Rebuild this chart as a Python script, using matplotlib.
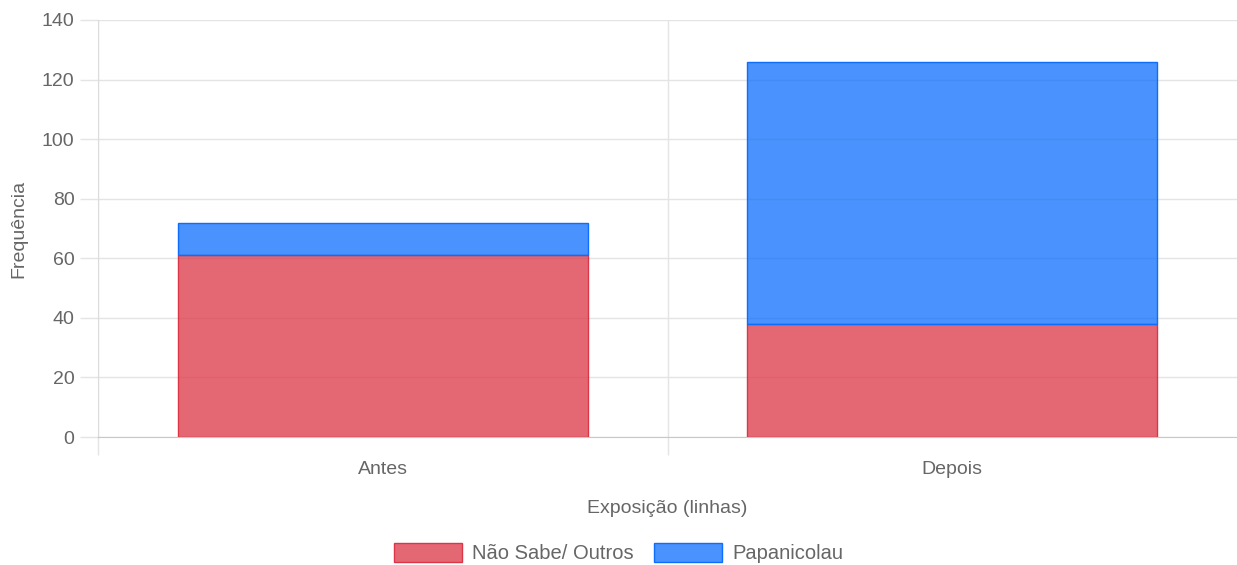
import matplotlib
matplotlib.use("Agg")
import matplotlib.pyplot as plt
import numpy as np

# data
categories = ["Antes", "Depois"]
nao_sabe = [61, 38]
papanicolau = [11, 88]
series_names = ["Não Sabe/ Outros", "Papanicolau"]

plt.rcParams['font.family'] = ['Liberation Sans', 'DejaVu Sans']

W, H = 1237, 565
fig = plt.figure(figsize=(W / 100, H / 100), dpi=100)
# plot area in pixels: left 98, right 1237, top 20, bottom 437
ax = fig.add_axes([98 / W, 1 - 437 / H, (1237 - 98) / W, (437 - 20) / H])

x = np.arange(len(categories))
red_fill = (220 / 255, 53 / 255, 69 / 255, 0.75)
red_edge = (220 / 255, 53 / 255, 69 / 255, 1.0)
blue_fill = (13 / 255, 110 / 255, 253 / 255, 0.75)
blue_edge = (13 / 255, 110 / 255, 253 / 255, 1.0)

ax.bar(x, nao_sabe, width=0.72, color=red_fill, edgecolor=red_edge,
       linewidth=1, label=series_names[0], zorder=3)
ax.bar(x, papanicolau, width=0.72, bottom=nao_sabe, color=blue_fill,
       edgecolor=blue_edge, linewidth=1, label=series_names[1], zorder=3)

ax.set_xlim(-0.5, 1.5)
ax.set_ylim(0, 140)
ax.set_yticks(np.arange(0, 141, 20))

grid_c = "#e4e4e4"
text_c = "#666666"
fs = 14

ax.set_xticks(x)
ax.set_xticklabels(categories)
ax.set_xticks([-0.5, 0.5], minor=True)
ax.tick_params(axis='x', which='major', length=0, pad=17, labelsize=fs,
               labelcolor=text_c)
ax.tick_params(axis='x', which='minor', length=13, color=grid_c, width=1)
ax.tick_params(axis='y', length=13, color=grid_c, width=1, pad=4,
               labelsize=fs, labelcolor=text_c)
ax.grid(axis='y', color=grid_c, linewidth=1, zorder=0)
ax.grid(axis='x', which='minor', color=grid_c, linewidth=1, zorder=0)

for s in ['top', 'right']:
    ax.spines[s].set_visible(False)
ax.spines['left'].set_color("#dcdcdc")
ax.spines['bottom'].set_color("#c8c8c8")

ax.set_ylabel("Frequência", fontsize=fs, color=text_c, labelpad=10)
ax.set_xlabel("Exposição (linhas)", fontsize=fs, color=text_c, labelpad=16)

fig.legend(loc='center', bbox_to_anchor=(0.5, 1 - 553 / H), ncol=2,
           frameon=False, fontsize=14.5, labelcolor=text_c,
           handlelength=3.4, handleheight=1.1, handletextpad=0.5,
           columnspacing=1.0)

fig.savefig("out.png", dpi=100)
